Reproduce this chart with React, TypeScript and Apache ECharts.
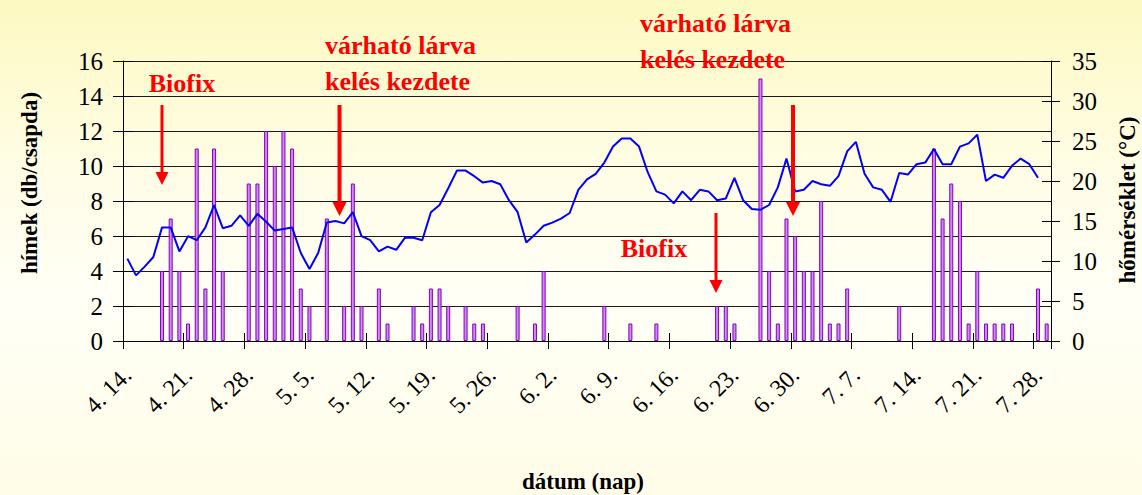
import React, { useEffect, useRef } from "react";
import * as echarts from "echarts";

// Dates from 4.14. to 7.29. (consecutive days)
const monthSpans: [number, number, number][] = [
  [4, 14, 30],
  [5, 1, 31],
  [6, 1, 30],
  [7, 1, 29],
];
const categories: string[] = [];
for (const [m, d0, d1] of monthSpans) {
  for (let d = d0; d <= d1; d++) categories.push(`${m}. ${d}.`);
}

// hímek (db/csapda) — left axis bars
const himek: (number | null)[] = [
  null, null, null, null, 4, 7, 4, 1, 11, 3,
  11, 4, null, null, 9, 9, 12, 10, 12, 11,
  3, 2, null, 7, null, 2, 9, 2, null, 3,
  1, null, null, 2, 1, 3, 3, 2, null, 2,
  1, 1, null, null, null, 2, null, 1, 4, null,
  null, null, null, null, null, 2, null, null, 1, null,
  null, 1, null, null, null, null, null, null, 2, 2,
  1, null, null, 15, 4, 1, 7, 6, 4, 4,
  8, 1, 1, 3, null, null, null, null, null, 2,
  null, null, null, 11, 7, 9, 8, 1, 4, 1,
  1, 1, 1, null, null, 3, 1,
];

// hőmérséklet (°C) — right axis line
const homerseklet: (number | null)[] = [
  10.3, 8.2, 9.3, 10.5, 14.2, 14.2, 11.2, 13.1, 12.6, 14.2,
  17.0, 14.1, 14.4, 15.7, 14.4, 15.9, 14.9, 13.8, 14.0, 14.2,
  11.0, 9.0, 11.0, 14.8, 15.0, 14.7, 16.1, 13.1, 12.6, 11.2,
  11.8, 11.4, 12.9, 12.9, 12.6, 16.1, 17.0, 19.1, 21.3, 21.3,
  20.6, 19.8, 20.0, 19.6, 17.6, 16.1, 12.3, 13.3, 14.4, 14.8,
  15.3, 16.0, 18.9, 20.2, 20.9, 22.3, 24.3, 25.3, 25.3, 24.3,
  21.1, 18.7, 18.3, 17.2, 18.7, 17.6, 18.9, 18.7, 17.6, 17.8,
  20.4, 17.6, 16.5, 16.4, 17.0, 19.2, 22.8, 18.7, 18.9, 20.0,
  19.6, 19.4, 20.6, 23.7, 24.9, 20.9, 19.2, 18.9, 17.4, 21.0,
  20.8, 22.1, 22.3, 24.0, 22.1, 22.1, 24.3, 24.7, 25.8, 20.0,
  20.8, 20.4, 21.9, 22.8, 22.1, 20.4, null,
];

const leftAxis = { min: 0, max: 16, interval: 2 };
const rightAxis = { min: 0, max: 35, interval: 5 };

const leftTitle = "hímek (db/csapda)";
const rightTitle = "hőmérséklet (°C)";
const bottomTitle = "dátum (nap)";
const biofixText = "Biofix";
const larvaLine1 = "várható lárva";
const larvaLine2 = "kelés kezdete";

const SERIF = "Liberation Serif, Times New Roman, serif";
const RED = "#ff0000";

function arrow(x: number, top: number, headTop: number, tip: number, w: number, hw: number) {
  return [
    {
      type: "rect",
      z: 100,
      shape: { x: x - w / 2, y: top, width: w, height: headTop - top + 1 },
      style: { fill: RED },
    },
    {
      type: "polygon",
      z: 100,
      shape: { points: [[x - hw / 2, headTop], [x + hw / 2, headTop], [x, tip]] },
      style: { fill: RED },
    },
  ];
}

function textEl(
  text: string,
  x: number,
  y: number,
  align: string,
  size: number,
  fill: string,
  rotation = 0
) {
  return {
    type: "text",
    z: 100,
    x,
    y,
    rotation,
    style: {
      text,
      fill,
      fontFamily: SERIF,
      fontSize: size,
      fontWeight: "bold",
      textAlign: align,
      textVerticalAlign: "middle",
    },
  };
}

export default function App() {
  const ref = useRef<HTMLDivElement>(null);

  useEffect(() => {
    if (!ref.current) return;
    const chart = echarts.init(ref.current, undefined, { renderer: "svg" });

    const axisColor = "#000";
    const tickInterval = 6;

    const option: any = {
      animation: false,
      backgroundColor: "transparent",
      textStyle: { fontFamily: SERIF },
      grid: { left: 123, right: 91, top: 61, bottom: 154, containLabel: false },
      xAxis: [
        {
          type: "category",
          data: categories,
          position: "bottom",
          boundaryGap: true,
          axisLine: { show: true, lineStyle: { color: axisColor, width: 1 } },
          axisTick: {
            show: true,
            interval: tickInterval,
            length: 8,
            lineStyle: { color: axisColor },
          },
          axisLabel: {
            interval: tickInterval,
            rotate: 45,
            margin: 30,
            fontSize: 24,
            fontFamily: SERIF,
            color: "#000",
          },
          splitLine: { show: false },
        },
        {
          type: "category",
          data: categories,
          position: "bottom",
          boundaryGap: true,
          axisLine: { show: false },
          axisTick: {
            show: true,
            inside: true,
            interval: tickInterval,
            length: 8,
            lineStyle: { color: axisColor },
          },
          axisLabel: { show: false },
          splitLine: { show: false },
        },
      ],
      yAxis: [
        {
          type: "value",
          position: "left",
          ...leftAxis,
          axisLine: { show: true, lineStyle: { color: axisColor } },
          axisTick: { show: true, length: 10, lineStyle: { color: axisColor } },
          axisLabel: { margin: 20, fontSize: 25, fontFamily: SERIF, color: "#000" },
          splitLine: { show: true, lineStyle: { color: "#1a1a1a", width: 1 } },
        },
        {
          type: "value",
          position: "right",
          ...rightAxis,
          axisLine: { show: true, lineStyle: { color: axisColor } },
          axisTick: { show: true, length: 9, lineStyle: { color: axisColor } },
          axisLabel: { margin: 21, fontSize: 25, fontFamily: SERIF, color: "#000" },
          splitLine: { show: false },
        },
        {
          type: "value",
          position: "left",
          ...leftAxis,
          axisLine: { show: false },
          axisTick: { show: true, inside: true, length: 10, lineStyle: { color: axisColor } },
          axisLabel: { show: false },
          splitLine: { show: false },
        },
        {
          type: "value",
          position: "right",
          ...rightAxis,
          axisLine: { show: false },
          axisTick: { show: true, inside: true, length: 9, lineStyle: { color: axisColor } },
          axisLabel: { show: false },
          splitLine: { show: false },
        },
      ],
      series: [
        {
          name: "hímek",
          type: "bar",
          xAxisIndex: 0,
          yAxisIndex: 0,
          data: himek,
          barWidth: 4,
          itemStyle: { color: "#cc88ff", borderColor: "#8a00b0", borderWidth: 1 },
          z: 2,
        },
        {
          name: "hőmérséklet",
          type: "line",
          xAxisIndex: 0,
          yAxisIndex: 1,
          data: homerseklet,
          showSymbol: false,
          symbol: "none",
          lineStyle: { color: "#0000ff", width: 2 },
          z: 3,
        },
      ],
      graphic: [
        textEl(leftTitle, 29, 183, "center", 23, "#000", Math.PI / 2),
        textEl(rightTitle, 1127, 200, "center", 23, "#000", Math.PI / 2),
        textEl(bottomTitle, 583, 481, "center", 23, "#000"),
        textEl(biofixText, 182, 83, "center", 26, RED),
        ...arrow(162, 105, 172, 185, 3, 13),
        textEl(larvaLine1, 325, 45, "left", 26, RED),
        textEl(larvaLine2, 325, 81, "left", 26, RED),
        ...arrow(339.5, 105, 202, 216, 4, 14),
        textEl(larvaLine1, 640, 23, "left", 26, RED),
        textEl(larvaLine2, 640, 59, "left", 26, RED),
        ...arrow(793, 105, 202, 216, 4, 14),
        textEl(biofixText, 654, 248, "center", 26, RED),
        ...arrow(716, 213, 280, 293, 3, 13),
      ],
    };

    chart.setOption(option);
    return () => chart.dispose();
  }, []);

  return (
    <div
      style={{
        position: "fixed",
        left: 0,
        top: 0,
        width: 1142,
        height: 495,
        background:
          "linear-gradient(to bottom, #fdf9c2 0%, #fffde6 35%, #fffff6 60%, #fffde8 100%)",
      }}
    >
      <div ref={ref} style={{ width: 1142, height: 495 }} />
    </div>
  );
}
